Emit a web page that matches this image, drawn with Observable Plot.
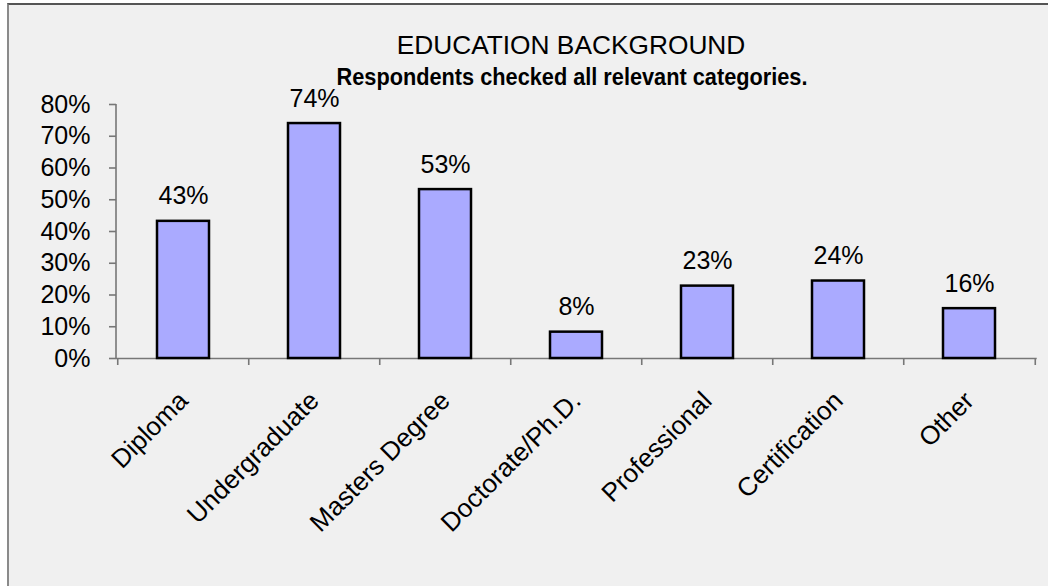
<!DOCTYPE html>
<html>
<head>
<meta charset="utf-8">
<script src="https://cdn.jsdelivr.net/npm/d3@7"></script>
<script src="https://cdn.jsdelivr.net/npm/@observablehq/plot@0.6"></script>
<style>
  html, body { margin: 0; padding: 0; background: #ffffff; width: 1048px; height: 586px; overflow: hidden;
    font-family: "Liberation Sans", Arial, sans-serif; }
  #frame { position: absolute; left: 7px; top: 3px; width: 1100px; height: 650px; background: #f0f0f0;
    border-left: 2px solid #8a8a8a; border-top: 2px solid #555555; }
  #title { position: absolute; left: 571px; top: 32px; font-size: 26.3px; line-height: 1; white-space: nowrap;
    transform: translateX(-50%); color: #000; }
  #subtitle { position: absolute; left: 572px; top: 65px; font-size: 24.7px; line-height: 1; font-weight: bold;
    white-space: nowrap; transform: translateX(-50%) scaleX(0.88); color: #000; }
  #chart { position: absolute; left: 0; top: 0; }
</style>
</head>
<body>
<div id="frame"></div>
<div id="chart"></div>
<div id="title">EDUCATION BACKGROUND</div>
<div id="subtitle">Respondents checked all relevant categories.</div>
<script>
const categories = ["Diploma", "Undergraduate", "Masters Degree", "Doctorate/Ph.D.", "Professional", "Certification", "Other"];
const values = [0.432, 0.740, 0.532, 0.083, 0.228, 0.244, 0.157];
const yTicks = [0, 0.1, 0.2, 0.3, 0.4, 0.5, 0.6, 0.7, 0.8];

const data = categories.map((c, i) => ({category: c, value: values[i]}));
const pct = d3.format(".0%");

const W = 1048, H = 586, mL = 116, mR = 11.3, mT = 104, mB = 228;
const step = (W - mL - mR) / categories.length;
const axisColor = "#777777";

const yAxisLine = (index, scales, vals, dims) => {
  const l = d3.create("svg:line")
    .attr("x1", dims.marginLeft).attr("x2", dims.marginLeft)
    .attr("y1", dims.marginTop).attr("y2", dims.height - dims.marginBottom)
    .attr("stroke", axisColor).attr("stroke-width", 1.6);
  return l.node();
};

const chart = Plot.plot({
  width: W, height: H,
  marginLeft: mL, marginRight: mR, marginTop: mT, marginBottom: mB,
  style: {background: "transparent", fontFamily: "Liberation Sans, Arial, sans-serif", color: "#000", overflow: "visible"},
  x: {domain: categories, paddingInner: 0.6, paddingOuter: 0.3, axis: null},
  y: {domain: [0, 0.8], axis: null},
  marks: [
    Plot.ruleY([0], {stroke: axisColor, strokeWidth: 1.6}),
    yAxisLine,
    Plot.axisY({ticks: yTicks, tickFormat: pct, tickSize: 7, tickPadding: 19, fontSize: 25,
      stroke: axisColor, strokeWidth: 1.6, label: null}),
    Plot.axisX({tickSize: 7, tickFormat: () => "", dx: -step / 2, stroke: axisColor, strokeWidth: 1.6, label: null}),
    Plot.axisX([categories[categories.length - 1]], {tickSize: 7, tickFormat: () => "", dx: step / 2,
      stroke: axisColor, strokeWidth: 1.6, label: null}),
    Plot.axisX({tickSize: 0, tickPadding: 38, tickRotate: -45, fontSize: 26, label: null}),
    Plot.barY(data, {x: "category", y: "value", fill: "#aaaaff", stroke: "#000", strokeWidth: 2.5}),
    Plot.text(data, {x: "category", y: "value", text: d => pct(d.value), lineAnchor: "bottom", dy: -17,
      fontSize: 25, fill: "#000"})
  ]
});
document.getElementById("chart").appendChild(chart);
</script>
</body>
</html>
